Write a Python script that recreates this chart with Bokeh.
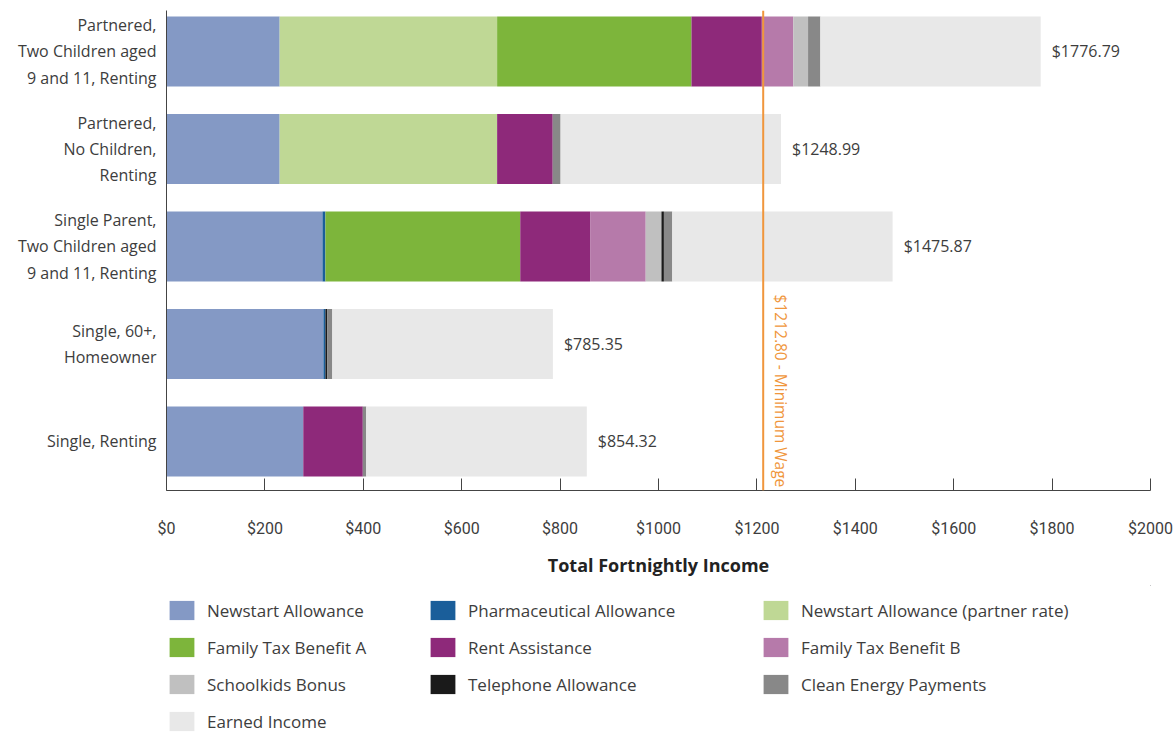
import math
from bokeh.plotting import figure
from bokeh.layouts import column
from bokeh.models import (ColumnDataSource, Range1d, FixedTicker, Span, Label,
                          Legend, LegendItem)
from bokeh.core.properties import value
from bokeh.embed import file_html
from bokeh.resources import INLINE

# ---------------- data ----------------
categories = [
    "Partnered,\nTwo Children aged\n9 and 11, Renting",
    "Partnered,\nNo Children,\nRenting",
    "Single Parent,\nTwo Children aged\n9 and 11, Renting",
    "Single, 60+,\nHomeowner",
    "Single, Renting",
]
series_names = [
    "Newstart Allowance", "Pharmaceutical Allowance", "Newstart Allowance (partner rate)",
    "Family Tax Benefit A", "Rent Assistance", "Family Tax Benefit B",
    "Schoolkids Bonus", "Telephone Allowance", "Clean Energy Payments",
    "Earned Income",
]
newstart = [230, 230, 317, 319, 278]
pharmaceutical = [0, 0, 6, 4, 0]
newstart_partner = [442, 442, 0, 0, 0]
family_tax_a = [395, 0, 396, 0, 0]
rent_assistance = [143, 113, 142, 0, 121]
family_tax_b = [64, 0, 113, 0, 0]
schoolkids = [30, 0, 32, 0, 0]
telephone = [0, 0, 5, 4, 0]
clean_energy = [25, 16, 17, 10, 7]
earned_income = [447.79, 447.99, 447.87, 448.35, 448.32]
totals = [1776.79, 1248.99, 1475.87, 785.35, 854.32]
minimum_wage = 1212.80
x_ticks = [0, 200, 400, 600, 800, 1000, 1200, 1400, 1600, 1800, 2000]

colors = ["#8499C5", "#1A5E9A", "#BFD895", "#7DB53B", "#8E297A",
          "#B67AAA", "#C0C0C0", "#1A1A1A", "#888888", "#E8E8E8"]

keys = ["s%d" % i for i in range(len(series_names))]
cols = [newstart, pharmaceutical, newstart_partner, family_tax_a, rent_assistance,
        family_tax_b, schoolkids, telephone, clean_energy, earned_income]
ypos = list(range(len(categories) - 1, -1, -1))
data = {"y": ypos, "total": totals, "label": ["$%.2f" % t for t in totals]}
for k, c in zip(keys, cols):
    data[k] = c
source = ColumnDataSource(data)

FONT = "Roboto"
FONT2 = "Open Sans"
TXT = "#3d3d3d"

p = figure(width=1176, height=585, output_backend="svg", toolbar_location=None,
           x_range=Range1d(0, 2000), y_range=Range1d(-0.5026, 4.42),
           min_border_left=166, min_border_right=26, min_border_top=10,
           min_border_bottom=95)
p.outline_line_color = None
p.xgrid.visible = False
p.ygrid.visible = False

renderers = p.hbar_stack(keys, y="y", height=0.718, color=colors,
                         line_color=None, source=source)

p.text(x="total", y="y", text="label", source=source, x_offset=11,
       text_baseline="middle", text_align="left", text_font=value(FONT2),
       text_font_size="16px", text_color=TXT)

p.add_layout(Span(location=minimum_wage, dimension="height", line_color="#F0963C",
                  line_width=2))
p.add_layout(Label(x=minimum_wage, y=-0.47, text="$1212.80 - Minimum Wage",
                   angle=-math.pi / 2, text_align="right", text_baseline="bottom",
                   x_offset=7, text_color="#F0963C", text_font=FONT2,
                   text_font_size="15.5px"))

# x axis
xa = p.xaxis[0]
xa.ticker = FixedTicker(ticks=x_ticks)
xa.major_label_overrides = {t: "$%d" % t for t in x_ticks}
xa.minor_tick_line_color = None
xa.major_tick_in = 12
xa.major_tick_out = 0
xa.major_label_standoff = 28
xa.axis_line_color = "#444444"
xa.major_tick_line_color = "#444444"
xa.major_label_text_font = FONT
xa.major_label_text_font_size = "16px"
xa.major_label_text_color = TXT
xa.axis_label = "Total Fortnightly Income"
xa.axis_label_text_font = FONT2
xa.axis_label_text_font_style = "bold"
xa.axis_label_text_font_size = "18px"
xa.axis_label_text_color = "#222222"
xa.axis_label_standoff = 12

# y axis
ya = p.yaxis[0]
ya.ticker = FixedTicker(ticks=ypos)
ya.major_label_overrides = {y: c for y, c in zip(ypos, categories)}
ya.minor_tick_line_color = None
ya.major_tick_in = 0
ya.major_tick_out = 0
ya.major_label_standoff = 10
ya.axis_line_color = "#444444"
ya.major_label_text_font = FONT2
ya.major_label_text_font_size = "16px"
ya.major_label_text_color = TXT

# ---------------- legend (separate strip below the chart) ----------------
lg = figure(width=1176, height=157, output_backend="svg", toolbar_location=None,
            x_axis_type=None, y_axis_type=None,
            min_border_left=166, min_border_right=26, min_border_top=0,
            min_border_bottom=0,
            x_range=Range1d(0, 1), y_range=Range1d(0, 1))
lg.outline_line_color = None
lg.xgrid.visible = False
lg.ygrid.visible = False
# swatch renderers kept outside the visible range; only their legend glyphs show
swatches = [lg.hbar(y=[5], left=[5], right=[6], height=1, fill_color=c, line_color=None)
            for c in colors]

items = [LegendItem(label=n, renderers=[r]) for n, r in zip(series_names, swatches)]
col_x = [0, 261, 594]
for ci in range(3):
    its = items[ci::3]
    h = len(its) * 24 + (len(its) - 1) * 13
    leg = Legend(items=its, location=(col_x[ci], 157 - 13 - h), orientation="vertical",
                 glyph_width=31, glyph_height=24, label_height=24, spacing=13,
                 label_standoff=10, padding=0, margin=0,
                 border_line_alpha=0, background_fill_alpha=0,
                 label_text_font=FONT2, label_text_font_size="17px",
                 label_text_color=TXT)
    lg.add_layout(leg, "center")

layout = column(p, lg, spacing=0)
open("out.html", "w").write(file_html(layout, INLINE))
